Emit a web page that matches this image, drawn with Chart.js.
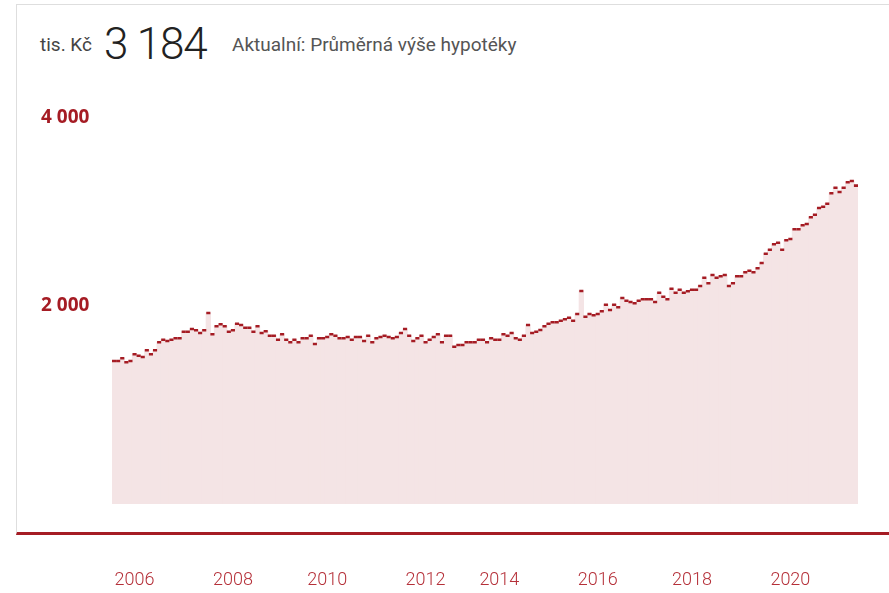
<!DOCTYPE html>
<html>
<head>
<meta charset="utf-8">
<script src="https://cdn.jsdelivr.net/npm/chart.js@4"></script>
<style>
  html, body { margin: 0; padding: 0; background: #fff; }
  #wrap { position: relative; width: 889px; height: 593px; overflow: hidden; font-family: Roboto, "Open Sans", sans-serif; }
  #card { position: absolute; left: 16px; top: 4px; width: 900px; height: 527px;
          border-left: 1px solid #dedede; border-top: 1px solid #dedede; border-bottom: 3px solid #a51c24; }
  .hd { position: absolute; white-space: nowrap; }
  #unit { left: 40px; top: 34px; font-size: 19px; line-height: 22px; color: #444; }
  #value { left: 104px; top: 18px; font-size: 44px; font-weight: 300; line-height: 52px; color: #222; letter-spacing: -1.2px; }
  #name { left: 232px; top: 34px; font-size: 19px; line-height: 22px; color: #555; }
  #chartBox { position: absolute; left: 0; top: 0; width: 889px; height: 593px; }
</style>
</head>
<body>
<div id="wrap">
  <div id="card"></div>
  <div class="hd" id="unit">tis. Kč</div>
  <div class="hd" id="value">3 184</div>
  <div class="hd" id="name">Aktualní: Průměrná výše hypotéky</div>
  <div id="chartBox"><canvas id="grafHypoteka" width="889" height="593"></canvas></div>
</div>
<script>
// Průměrná výše hypotéky (tis. Kč), měsíční hodnoty
const hodnoty = [
  1430, 1430, 1457, 1417, 1430, 1497, 1483, 1470, 1537, 1497, 1537, 1617,
  1643, 1630, 1643, 1657, 1657, 1723, 1723, 1750, 1737, 1710, 1737, 1910,
  1697, 1777, 1797, 1777, 1723, 1737, 1803, 1790, 1763, 1763, 1723, 1777,
  1710, 1727, 1683, 1683, 1643, 1697, 1643, 1617, 1643, 1617, 1657, 1657,
  1683, 1600, 1657, 1657, 1670, 1697, 1683, 1657, 1657, 1670, 1643, 1670,
  1670, 1630, 1683, 1617, 1657, 1670, 1683, 1670, 1657, 1670, 1710, 1750,
  1683, 1630, 1657, 1683, 1617, 1643, 1670, 1697, 1617, 1683, 1683, 1573,
  1590, 1590, 1617, 1617, 1617, 1643, 1643, 1617, 1657, 1643, 1643, 1697,
  1683, 1710, 1657, 1643, 1683, 1790, 1710, 1723, 1740, 1777, 1803, 1817,
  1817, 1833, 1847, 1863, 1833, 1900, 2130, 1873, 1900, 1887, 1900, 1927,
  1993, 1940, 1993, 1967, 2060, 2033, 2020, 2007, 2033, 2047, 2047, 2047,
  2020, 2113, 2073, 2047, 2153, 2113, 2143, 2113, 2127, 2143, 2143, 2180,
  2263, 2207, 2290, 2263, 2277, 2290, 2180, 2207, 2277, 2277, 2317, 2333,
  2317, 2357, 2410, 2503, 2543, 2597, 2613, 2543, 2637, 2650, 2747, 2747,
  2787, 2800, 2867, 2893, 2960, 2973, 3003, 3107, 3163, 3120, 3163, 3217,
  3230, 3184
];

// popisky let na ose x a u kterého měsíce stojí
const roky = ["2006", "2008", "2010", "2012", "2014", "2016", "2018", "2020"];
const rokyIndex = [5, 29, 52, 76, 94, 118, 141, 165];

// hodnoty na ose y
const osaY = [2000, 4000];

const tmavaCervena = "#a51c24";

const kategorie = hodnoty.map((v, i) => {
  const k = rokyIndex.indexOf(i);
  return k >= 0 ? roky[k] : "";
});

function formatTisice(v) {
  return String(v).replace(/\B(?=(\d{3})+(?!\d))/g, " ");
}

const platno = document.getElementById("grafHypoteka");

const graf = new Chart(platno, {
  type: "bar",
  data: {
    labels: kategorie,
    datasets: [
      {
        type: "line",
        label: "hodnota",
        data: hodnoty,
        showLine: false,
        pointStyle: "line",
        pointRadius: 2.05,
        pointHoverRadius: 2.05,
        pointBorderWidth: 2.6,
        borderColor: tmavaCervena,
        backgroundColor: tmavaCervena,
        order: 0,
      },
      {
        label: "plocha",
        data: hodnoty,
        backgroundColor: "#f4e4e5",
        borderWidth: 0,
        inflateAmount: 0.6,
        barPercentage: 1,
        categoryPercentage: 1,
        order: 1,
      },
    ],
  },
  options: {
    responsive: false,
    animation: false,
    devicePixelRatio: 1,
    layout: { padding: { left: 41, right: 31, top: 104, bottom: 0 } },
    plugins: {
      legend: { display: false },
      tooltip: { enabled: false },
    },
    scales: {
      x: {
        grid: { display: false, drawTicks: false },
        border: { display: false },
        afterFit: (scale) => { scale.height = 89; },
        ticks: {
          autoSkip: false,
          maxRotation: 0,
          minRotation: 0,
          padding: 28,
          color: "#b53039",
          // velká výška řádku posune popisky pod červenou linku
          font: { family: "Roboto", size: 18, weight: "300", lineHeight: "96px" },
          callback: (val, i) => kategorie[i],
        },
      },
      y: {
        min: 0,
        max: 4000,
        grid: { display: false, drawTicks: false },
        border: { display: false },
        afterBuildTicks: (scale) => { scale.ticks = osaY.map((v) => ({ value: v })); },
        afterFit: (scale) => { scale.width = 71; },
        ticks: {
          crossAlign: "far",
          padding: 0,
          labelOffset: 2,
          color: tmavaCervena,
          font: { family: "Open Sans", size: 19, weight: "bold", lineHeight: 24 / 19 },
          // horní popisek sedí v originále o kus níž
          callback: (v) => (v === 4000 ? ["", formatTisice(v)] : formatTisice(v)),
        },
      },
    },
  },
});
</script>
</body>
</html>
